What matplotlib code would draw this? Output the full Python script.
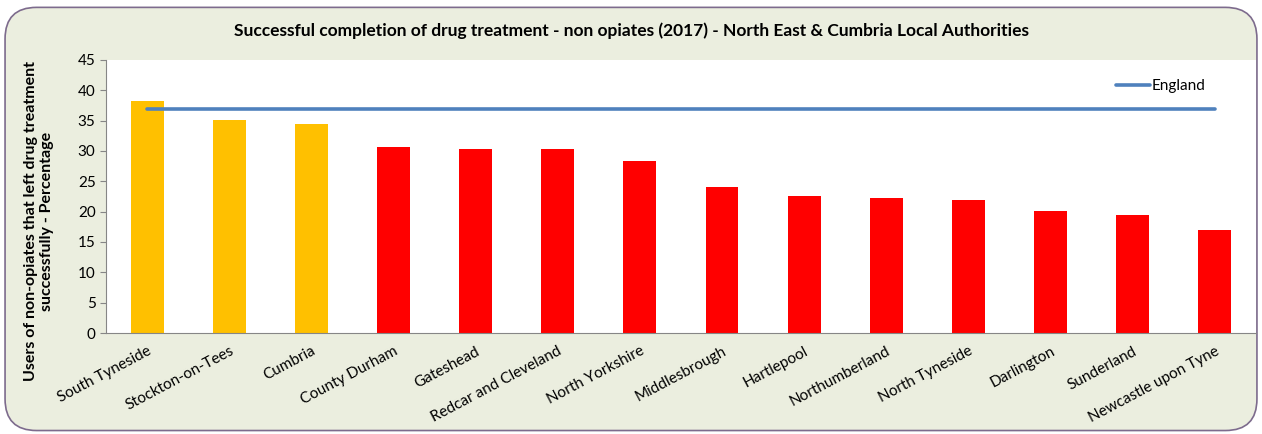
import numpy as np
import matplotlib.pyplot as plt
from matplotlib.patches import FancyBboxPatch

# data
areas = ['South Tyneside', 'Stockton-on-Tees', 'Cumbria', 'County Durham', 'Gateshead',
         'Redcar and Cleveland', 'North Yorkshire', 'Middlesbrough', 'Hartlepool',
         'Northumberland', 'North Tyneside', 'Darlington', 'Sunderland', 'Newcastle upon Tyne']
values = [38.3, 35.1, 34.5, 30.7, 30.4, 30.4, 28.4, 24.1, 22.6, 22.3, 22.0, 20.1, 19.5, 16.9]
bar_colours = ['#FFC000'] * 3 + ['#FF0000'] * 11
england = 37.0

plt.rcParams['font.family'] = ['Lato', 'DejaVu Sans']

fig = plt.figure(figsize=(12.62, 4.34), dpi=100)
fig.patch.set_facecolor('white')

# rounded chart-area background
bg = FancyBboxPatch((0.004, 0.008), 0.992, 0.975, boxstyle='round,pad=0,rounding_size=0.025',
                    transform=fig.transFigure, facecolor='#EBEEDF', edgecolor='#7D6B8D',
                    linewidth=1.2, mutation_aspect=1262 / 434, zorder=-5)
fig.patches.append(bg)

ax = fig.add_axes([0.084, 0.2327, 0.9112, 0.6291])
ax.set_zorder(2)
ax.set_facecolor('white')

x = np.arange(len(areas))
ax.bar(x, values, width=0.4, color=bar_colours, zorder=2)
ax.plot([x[0], x[-1]], [england, england], color='#4F81BD', linewidth=2.6,
        solid_capstyle='round', label='England', zorder=3)

ax.set_xlim(-0.5, len(areas) - 0.5)
ax.set_ylim(0, 45)
ax.set_yticks(range(0, 46, 5))
ax.set_xticks(x)
ax.set_xticklabels(areas, rotation=28, ha='right', rotation_mode='anchor', fontsize=11)
ax.tick_params(axis='y', labelsize=11, color='#868686', length=4)
ax.tick_params(axis='x', length=0, pad=8)

for s in ['top', 'right']:
    ax.spines[s].set_visible(False)
for s in ['left', 'bottom']:
    ax.spines[s].set_color('#868686')

ax.set_ylabel('Users of non-opiates that left drug treatment\nsuccessfully - Percentage',
              fontsize=11.5, fontweight='bold')
ax.yaxis.set_label_coords(-0.045, 0.41)

ax.legend(loc='upper right', bbox_to_anchor=(0.968, 0.98), frameon=False, fontsize=11,
          handlelength=2.2, handletextpad=0.1)

fig.text(0.5, 0.93, 'Successful completion of drug treatment - non opiates (2017) - North East & Cumbria Local Authorities',
         ha='center', va='center', fontsize=12.5, fontweight='bold')

fig.savefig('out.png', dpi=100)
